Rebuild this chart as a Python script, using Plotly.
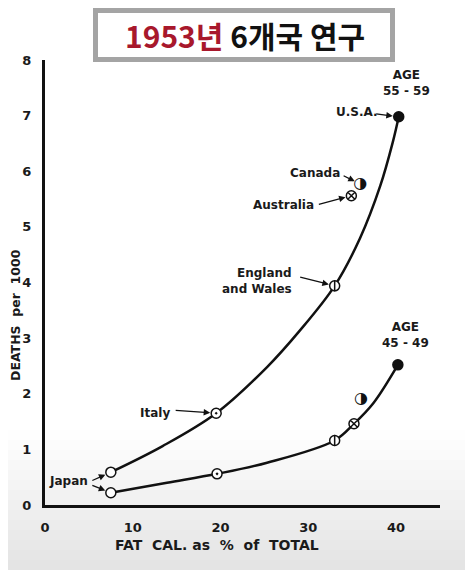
import plotly.graph_objects as go

# ---------------- data ----------------
countries = ["Japan", "Italy", "England and Wales", "Australia", "Canada", "U.S.A."]
fat_55_59 = [7.5, 19.5, 33.0, 34.9, 35.9, 40.3]
deaths_55_59 = [0.59, 1.65, 3.94, 5.56, 5.77, 6.98]
fat_45_49 = [7.5, 19.6, 33.0, 35.2, 36.0, 40.2]
deaths_45_49 = [0.22, 0.56, 1.16, 1.46, 1.91, 2.52]

# hand-drawn fitted curves
curve_55_59_x = [7.5, 13.4, 19.5, 25.3, 29.0, 33.0, 35.9, 38.2, 39.6, 40.3]
curve_55_59_y = [0.59, 1.06, 1.65, 2.48, 3.13, 3.94, 4.80, 5.74, 6.51, 6.98]
curve_45_49_x = [7.5, 13.9, 19.6, 25.3, 33.0, 35.2, 37.4, 40.2]
curve_45_49_y = [0.22, 0.40, 0.56, 0.76, 1.16, 1.46, 1.83, 2.52]

x_ticks = [0, 10, 20, 30, 40]
y_ticks = [0, 1, 2, 3, 4, 5, 6, 7, 8]
age_groups = ["AGE<br>55 - 59", "AGE<br>45 - 49"]
title_year = "1953년"
title_rest = "6개국 연구"
x_title = "FAT\u00a0\u00a0CAL.\u00a0as\u00a0\u00a0%\u00a0\u00a0of\u00a0\u00a0TOTAL"
y_title = "DEATHS\u00a0\u00a0per\u00a0\u00a01000"

# ---------------- styling ----------------
OFF = 8                      # browser default body margin
W, H = 473 - OFF, 570 - OFF
ML, MR, MT, MB = 45 - OFF, 33, 60 - OFF, 65
PW, PH = W - ML - MR, H - MT - MB
LBL = dict(family="DejaVu Sans", size=12, color="#1a1a1a", weight="bold")
INK = "#111111"

def px_x(px):
    return (px - OFF - ML) / PW

def px_y(py):
    return (H - MB - (py - OFF)) / PH

symbols = {"Japan": "circle", "Italy": "circle-dot", "England and Wales": "circle",
           "Australia": "circle-x", "Canada": None, "U.S.A.": "circle"}
fills = {"Japan": "white", "Italy": "white", "England and Wales": "white",
         "Australia": "white", "Canada": "white", "U.S.A.": INK}

fig = go.Figure()

# background gradient (video frame look)
n_bands = 14
for i in range(n_bands):
    y0 = 430 + i * 10
    c = int(round(255 - (i + 0.5) / n_bands * 28))
    fig.add_shape(type="rect", xref="paper", yref="paper", layer="below",
                  x0=px_x(-10), x1=px_x(W + 20), y0=px_y(y0 + 10.5), y1=px_y(y0),
                  fillcolor=f"rgb({c},{c},{c})", line=dict(width=0))

for cx, cy in [(curve_55_59_x, curve_55_59_y), (curve_45_49_x, curve_45_49_y)]:
    fig.add_trace(go.Scatter(x=cx, y=cy, mode="lines",
                             line=dict(color=INK, width=2.5, shape="spline", smoothing=1.0),
                             hoverinfo="skip", showlegend=False))

for fx, dy in [(fat_55_59, deaths_55_59), (fat_45_49, deaths_45_49)]:
    idx = [i for i, c in enumerate(countries) if symbols[c] is not None]
    fig.add_trace(go.Scatter(
        x=[fx[i] for i in idx], y=[dy[i] for i in idx], mode="markers",
        marker=dict(symbol=[symbols[countries[i]] for i in idx], size=10,
                    color=[fills[countries[i]] for i in idx],
                    line=dict(color=INK, width=1.5)),
        text=[countries[i] for i in idx], hoverinfo="text", showlegend=False))
    e = countries.index("England and Wales")
    fig.add_trace(go.Scatter(x=[fx[e]], y=[dy[e]], mode="markers",
                             marker=dict(symbol="line-ns", size=8, line=dict(color=INK, width=1.5)),
                             hoverinfo="skip", showlegend=False))
    c = countries.index("Canada")
    fig.add_trace(go.Scatter(x=[fx[c]], y=[dy[c]], mode="text", text=["◑"],
                             textposition="middle center",
                             textfont=dict(family="DejaVu Sans", size=16, color=INK),
                             hoverinfo="skip", showlegend=False))

annotations = []

def label(text, px, py, **kw):
    d = dict(text=text, xref="paper", yref="paper", x=px_x(px), y=px_y(py),
             showarrow=False, font=LBL, xanchor="center", yanchor="middle")
    d.update(kw)
    annotations.append(d)

label(age_groups[0], 406, 83, align="center")
label(age_groups[1], 405, 335, align="center")
label("U.S.A.", 357, 112)
label("Canada", 315, 173)
label("Australia", 283, 205)
label("England<br>and Wales", 294, 281, xanchor="right", align="right")
label("Italy", 155, 413)
label("Japan", 68, 481)
label(x_title, 217, 545, font=dict(family="DejaVu Sans", size=14, color="#1a1a1a", weight="bold"))
label(y_title, 15, 315, textangle=-90,
      font=dict(family="DejaVu Sans", size=12.5, color="#1a1a1a", weight="bold"))

def arrow(xv, yv, ax, ay):
    annotations.append(dict(x=xv, y=yv, xref="x", yref="y", ax=ax, ay=ay, text="",
                            showarrow=True, arrowhead=2, arrowsize=1, arrowwidth=1.3,
                            arrowcolor=INK, standoff=6))

u = countries.index("U.S.A.")
arrow(fat_55_59[u], deaths_55_59[u], -24, -3)
cn = countries.index("Canada")
arrow(fat_55_59[cn], deaths_55_59[cn], -18, -9)
au = countries.index("Australia")
arrow(fat_55_59[au], deaths_55_59[au], -34, 9)
en = countries.index("England and Wales")
arrow(fat_55_59[en], deaths_55_59[en], -36, -9)
it = countries.index("Italy")
arrow(fat_55_59[it], deaths_55_59[it], -42, -3)
jp = countries.index("Japan")
arrow(fat_55_59[jp], deaths_55_59[jp], -20, 9)
arrow(fat_45_49[jp], deaths_45_49[jp], -20, -8)

# title box
fig.add_shape(type="rect", xref="paper", yref="paper", x0=px_x(95.5), x1=px_x(392.5),
              y0=px_y(59.5), y1=px_y(10.5), fillcolor="white",
              line=dict(color="#a4a4a4", width=5))
annotations.append(dict(
    text=f"<span style='color:#a8182c'>{title_year}</span> {title_rest}",
    xref="paper", yref="paper", x=px_x(245), y=px_y(35), showarrow=False,
    xanchor="center", yanchor="middle",
    font=dict(family="Noto Sans CJK KR", size=30, color="#111111", weight="bold")))

fig.update_layout(
    width=W, height=H, margin=dict(l=ML, r=MR, t=MT, b=MB),
    paper_bgcolor="white", plot_bgcolor="rgba(0,0,0,0)",
    annotations=annotations, showlegend=False,
    xaxis=dict(range=[0, 45], tickvals=x_ticks, ticktext=[str(v) for v in x_ticks],
               showgrid=False, zeroline=False, showline=True, linecolor=INK, linewidth=3,
               ticks="", ticklabelstandoff=8, automargin=False,
               tickfont=dict(family="DejaVu Sans", size=13, color="#1a1a1a", weight="bold")),
    yaxis=dict(range=[0, 8], tickvals=y_ticks, ticktext=[str(v) for v in y_ticks],
               showgrid=False, zeroline=False, showline=True, linecolor=INK, linewidth=3,
               ticks="", ticklabelstandoff=8, automargin=False,
               tickfont=dict(family="DejaVu Sans", size=13, color="#1a1a1a", weight="bold")),
)

fig.write_html("out.html")
